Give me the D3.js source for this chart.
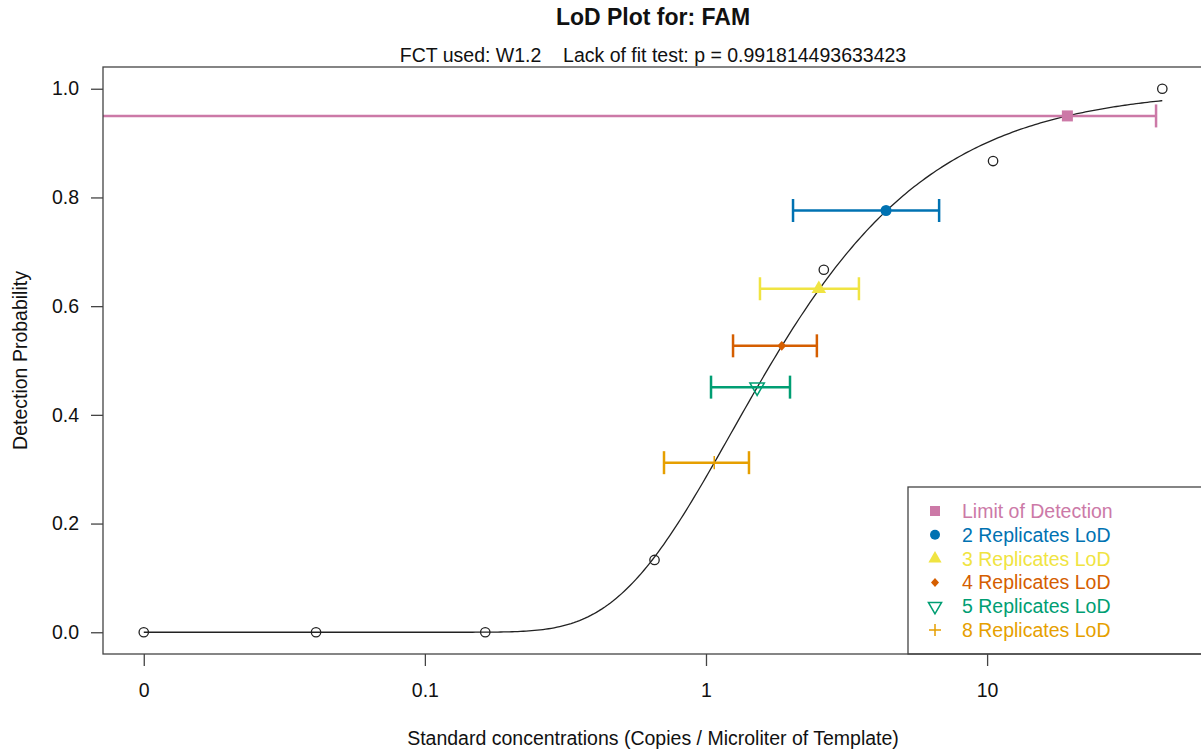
<!DOCTYPE html>
<html>
<head>
<meta charset="utf-8">
<script src="https://cdn.jsdelivr.net/npm/d3@7"></script>
<style>
  body { margin: 0; background: #fff; }
  svg { display: block; font-family: "Liberation Sans", Arial, sans-serif; }
</style>
</head>
<body>
<svg id="chart" width="1201" height="752"></svg>
<script>
// observed dilution series (0 concentration plotted at 0.01)
var concentrations = [0.01, 0.041, 0.164, 0.656, 2.625, 10.5, 42];
var detectionRates = [0, 0, 0, 0.133, 0.667, 0.867, 1.0];

// x ticks
var xTickValues = [0.01, 0.1, 1, 10];
var xTickLabels = ['0', '0.1', '1', '10'];
var yTickValues = [0, 0.2, 0.4, 0.6, 0.8, 1.0];

// W1.2 fit parameters
var fitB = -1.08;
var fitE = 1.233;

// LoD estimates with confidence bounds
var lodNames = ['Limit of Detection', '2 Replicates LoD', '3 Replicates LoD',
  '4 Replicates LoD', '5 Replicates LoD', '8 Replicates LoD'];
var lodProb = [0.95, 0.776, 0.632, 0.527, 0.451, 0.312];
var lodConc = [19.3, 4.37, 2.52, 1.86, 1.52, 1.07];
var lodLower = [0.001, 2.04, 1.556, 1.248, 1.042, 0.709];
var lodUpper = [39.9, 6.75, 3.50, 2.48, 1.99, 1.422];
var lodColors = ['#CC79A7', '#0072B2', '#F0E442', '#D55E00', '#009E73', '#E69F00'];
var lodShapes = ['square', 'circle', 'triangle', 'diamond', 'triangleDown', 'plus'];

var svg = d3.select('#chart');

var plotLeft = 103, plotRight = 1203, plotTop = 67, plotBottom = 654;
var fontSize = 19.5;

var x = d3.scaleLog()
  .domain([Math.pow(10, -2.145), Math.pow(10, 1.768)])
  .range([plotLeft, plotRight]);
var y = d3.scaleLinear()
  .domain([-0.04, 1.04])
  .range([plotBottom, plotTop]);

svg.append('defs').append('clipPath').attr('id', 'plotclip')
  .append('rect')
  .attr('x', plotLeft).attr('y', plotTop)
  .attr('width', plotRight - plotLeft).attr('height', plotBottom - plotTop);

// titles
svg.append('text')
  .attr('x', (plotLeft + plotRight) / 2).attr('y', 25)
  .attr('text-anchor', 'middle')
  .attr('font-weight', 'bold')
  .attr('font-size', 23)
  .attr('fill', '#111')
  .text('LoD Plot for: FAM');

svg.append('text')
  .attr('x', (plotLeft + plotRight) / 2).attr('y', 62)
  .attr('text-anchor', 'middle')
  .attr('font-size', fontSize)
  .attr('fill', '#111')
  .attr('xml:space', 'preserve')
  .text('FCT used: W1.2    Lack of fit test: p = 0.991814493633423');

// axes
var xAxis = d3.axisBottom(x)
  .tickValues(xTickValues)
  .tickSize(12)
  .tickPadding(17)
  .tickFormat(function(d, i) { return xTickLabels[i]; });

var gx = svg.append('g')
  .attr('transform', 'translate(0,' + plotBottom + ')')
  .call(xAxis);
gx.select('.domain').remove();

var yAxis = d3.axisLeft(y)
  .tickValues(yTickValues)
  .tickSize(12)
  .tickPadding(12)
  .tickFormat(d3.format('.1f'));

var gy = svg.append('g')
  .attr('transform', 'translate(' + plotLeft + ',0)')
  .call(yAxis);
gy.select('.domain').remove();

svg.selectAll('.tick line').attr('stroke', '#444').attr('stroke-width', 1.3);
svg.selectAll('.tick text')
  .attr('font-size', fontSize)
  .attr('fill', '#111')
  .attr('font-family', '"Liberation Sans", Arial, sans-serif');

// axis titles
svg.append('text')
  .attr('x', (plotLeft + plotRight) / 2).attr('y', 745)
  .attr('text-anchor', 'middle')
  .attr('font-size', fontSize)
  .attr('fill', '#111')
  .text('Standard concentrations (Copies / Microliter of Template)');

svg.append('text')
  .attr('transform', 'translate(27,' + ((plotTop + plotBottom) / 2) + ') rotate(-90)')
  .attr('text-anchor', 'middle')
  .attr('font-size', fontSize)
  .attr('fill', '#111')
  .text('Detection Probability');

var plot = svg.append('g').attr('clip-path', 'url(#plotclip)');

// fitted curve
var weibull = function(c) {
  return Math.exp(-Math.exp(fitB * (Math.log(c) - Math.log(fitE))));
};
var curveX = d3.ticks(Math.log10(concentrations[0]), Math.log10(concentrations[concentrations.length - 1]), 300)
  .map(function(v) { return Math.pow(10, v); });
curveX.push(concentrations[concentrations.length - 1]);

plot.append('path')
  .datum(curveX)
  .attr('fill', 'none')
  .attr('stroke', '#222')
  .attr('stroke-width', 1.3)
  .attr('d', d3.line()
    .x(function(d) { return x(d); })
    .y(function(d) { return y(weibull(d)); }));

// observed points
plot.selectAll('circle.obs')
  .data(concentrations)
  .enter()
  .append('circle')
  .attr('class', 'obs')
  .attr('cx', function(d) { return x(d); })
  .attr('cy', function(d, i) { return y(detectionRates[i]); })
  .attr('r', 4.7)
  .attr('fill', 'none')
  .attr('stroke', '#222')
  .attr('stroke-width', 1.3);

// error bars
var lods = lodNames.map(function(name, i) {
  return { name: name, p: lodProb[i], c: lodConc[i], lo: lodLower[i], hi: lodUpper[i],
    color: lodColors[i], shape: lodShapes[i] };
});

var bars = plot.selectAll('g.bar')
  .data(lods)
  .enter()
  .append('g')
  .attr('class', 'bar')
  .attr('stroke', function(d) { return d.color; })
  .attr('stroke-width', 2.5);

bars.append('line')
  .attr('x1', function(d) { return x(d.lo); })
  .attr('x2', function(d) { return x(d.hi); })
  .attr('y1', function(d) { return y(d.p); })
  .attr('y2', function(d) { return y(d.p); });

bars.append('line')
  .attr('x1', function(d) { return x(d.lo); })
  .attr('x2', function(d) { return x(d.lo); })
  .attr('y1', function(d) { return y(d.p) - 11.5; })
  .attr('y2', function(d) { return y(d.p) + 11.5; });

bars.append('line')
  .attr('x1', function(d) { return x(d.hi); })
  .attr('x2', function(d) { return x(d.hi); })
  .attr('y1', function(d) { return y(d.p) - 11.5; })
  .attr('y2', function(d) { return y(d.p) + 11.5; });

var drawMarker = function(g, shape, color, size) {
  var s = size;
  if (shape === 'square') {
    g.append('rect').attr('x', -s / 2).attr('y', -s / 2).attr('width', s).attr('height', s)
      .attr('fill', color);
  } else if (shape === 'circle') {
    g.append('circle').attr('r', s / 2).attr('fill', color);
  } else if (shape === 'triangle') {
    g.append('path').attr('d', d3.symbol().type(d3.symbolTriangle).size(s * s * 0.75)())
      .attr('fill', color);
  } else if (shape === 'diamond') {
    g.append('path').attr('d', 'M0,' + (-s * 0.45) + 'L' + (s * 0.4) + ',0L0,' + (s * 0.45) + 'L' + (-s * 0.4) + ',0Z')
      .attr('fill', color);
  } else if (shape === 'triangleDown') {
    g.append('path').attr('d', d3.symbol().type(d3.symbolTriangle).size(s * s * 0.75)())
      .attr('transform', 'rotate(180)')
      .attr('fill', 'none').attr('stroke', color).attr('stroke-width', 1.5);
  } else if (shape === 'plus') {
    g.append('path').attr('d', 'M' + (-s * 0.6) + ',0H' + (s * 0.6) + 'M0,' + (-s * 0.6) + 'V' + (s * 0.6))
      .attr('fill', 'none').attr('stroke', color).attr('stroke-width', 1.5);
  }
};

plot.selectAll('g.lodpt')
  .data(lods)
  .enter()
  .append('g')
  .attr('class', 'lodpt')
  .attr('transform', function(d) { return 'translate(' + x(d.c) + ',' + y(d.p) + ')'; })
  .each(function(d) { drawMarker(d3.select(this), d.shape, d.color, 11); });

// legend (bottom right)
var legW = 295, legH = 167;
var leg = svg.append('g')
  .attr('transform', 'translate(' + (plotRight - legW) + ',' + (plotBottom - legH) + ')');

leg.append('rect')
  .attr('width', legW).attr('height', legH)
  .attr('fill', '#fff')
  .attr('stroke', '#444')
  .attr('stroke-width', 1.3);

var rows = leg.selectAll('g.row')
  .data(lods)
  .enter()
  .append('g')
  .attr('class', 'row')
  .attr('transform', function(d, i) { return 'translate(0,' + (24 + i * 23.8) + ')'; });

rows.each(function(d) {
  var m = d3.select(this).append('g').attr('transform', 'translate(27,0)');
  drawMarker(m, d.shape, d.color, 10);
});

rows.append('text')
  .attr('x', 54)
  .attr('dy', '0.36em')
  .attr('font-size', fontSize)
  .attr('fill', function(d) { return d.color; })
  .text(function(d) { return d.name; });

// plot frame
svg.append('rect')
  .attr('x', plotLeft).attr('y', plotTop)
  .attr('width', plotRight - plotLeft).attr('height', plotBottom - plotTop)
  .attr('fill', 'none')
  .attr('stroke', '#444')
  .attr('stroke-width', 1.3);
</script>
</body>
</html>
